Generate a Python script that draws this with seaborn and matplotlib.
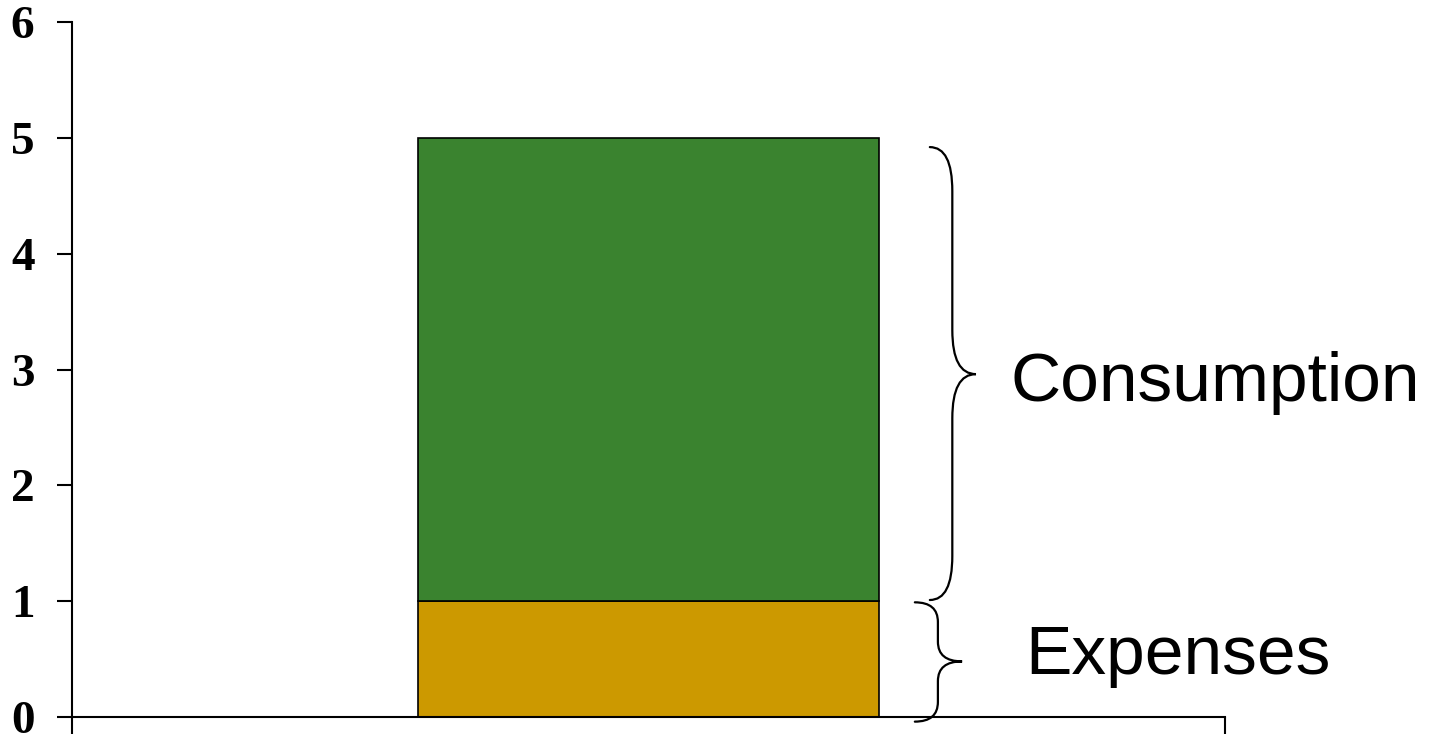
import matplotlib
matplotlib.use("Agg")
import matplotlib.pyplot as plt
from matplotlib.path import Path
from matplotlib.patches import PathPatch
import seaborn as sns
import pandas as pd

# Budget split of a single income bar
categories = ["Income"]
expenses = [1]
consumption = [4]
y_ticks = [0, 1, 2, 3, 4, 5, 6]

sns.set_theme(style="white")
plt.rcParams["font.family"] = ["Liberation Sans", "DejaVu Sans"]

fig = plt.figure(figsize=(14.34, 7.34), dpi=100)
ax = fig.add_axes([72 / 1434, 1 - 717 / 734, (1225 - 72) / 1434, (717 - 22) / 734])

df = pd.DataFrame({"cat": categories, "expenses": expenses, "consumption": consumption})

sns.barplot(data=df, x="cat", y="expenses", color="#CC9900", saturation=1,
            edgecolor="black", linewidth=1.2, width=0.8, ax=ax)
sns.barplot(data=df, x="cat", y="consumption", bottom=df["expenses"], color="#3A832F",
            saturation=1, edgecolor="black", linewidth=1.2, width=0.8, ax=ax)

ax.set_xlim(-1, 1)
ax.set_ylim(0, 6)
ax.set_yticks(y_ticks)
ax.set_yticklabels([str(t) for t in y_ticks], fontfamily="Liberation Serif",
                   fontweight="bold", fontsize=34, color="black")
ax.set_xticks([-1, 1])
ax.set_xticklabels(["", ""])
ax.set_xlabel("")
ax.set_ylabel("")

ax.spines["top"].set_visible(False)
ax.spines["right"].set_visible(False)
for side in ("left", "bottom"):
    ax.spines[side].set_color("black")
    ax.spines[side].set_linewidth(1.5)
ax.tick_params(axis="y", direction="out", length=11, width=1.5, color="black",
               pad=16, left=True)
ax.tick_params(axis="x", direction="out", length=13, width=1.5, color="black",
               bottom=True)


def curly_brace(ax, x0, x1, x2, top, bottom, mid, r, lw=1.6):
    verts = [
        (x0, top), (x1, top), (x1, top - r),
        (x1, mid + r),
        (x1, mid), (x2, mid),
        (x1, mid), (x1, mid - r),
        (x1, bottom + r),
        (x1, bottom), (x0, bottom),
    ]
    codes = [
        Path.MOVETO, Path.CURVE3, Path.CURVE3,
        Path.LINETO,
        Path.CURVE3, Path.CURVE3,
        Path.CURVE3, Path.CURVE3,
        Path.LINETO,
        Path.CURVE3, Path.CURVE3,
    ]
    patch = PathPatch(Path(verts, codes), facecolor="none", edgecolor="black",
                      linewidth=lw, clip_on=False, capstyle="round")
    ax.add_patch(patch)


# Brace over the consumption segment
curly_brace(ax, 0.488, 0.527, 0.568, 4.92, 1.01, 2.96, 0.38)
# Brace over the expenses segment
curly_brace(ax, 0.462, 0.502, 0.544, 0.99, -0.04, 0.48, 0.17)

ax.text(0.628, 2.88, "Consumption", fontsize=50, ha="left", va="center",
        color="black", clip_on=False)
ax.text(0.654, 0.53, "Expenses", fontsize=50, ha="left", va="center",
        color="black", clip_on=False)

fig.savefig("out.png", dpi=100)
